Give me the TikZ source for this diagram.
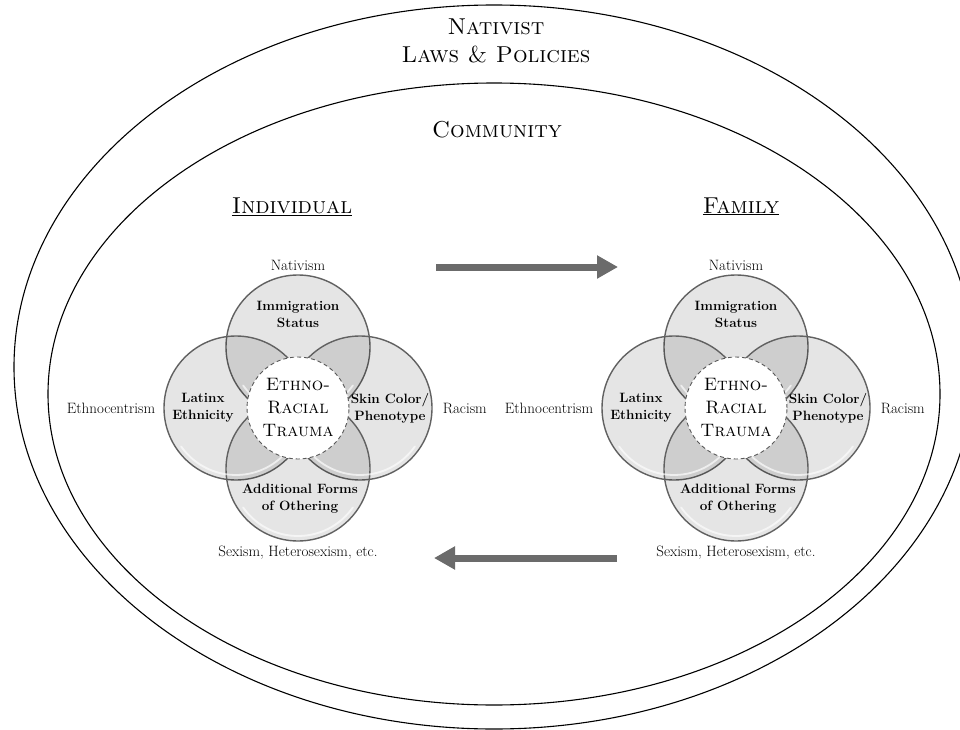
\documentclass[tikz,border=0pt]{standalone}
\usepackage{fontspec}
\usepackage{tikz}
\usetikzlibrary{positioning,arrows.meta}

\begin{document}
\begin{tikzpicture}[x=1pt,y=-1pt,
  petal/.style={circle,minimum size=144pt,inner sep=0pt,draw=black!62,line width=1.4pt,fill=black,fill opacity=0.1},
  shine/.style={white,line width=1.8pt,opacity=0.65,line cap=round},
  core/.style={circle,minimum size=102pt,inner sep=0pt,draw=black!65,dash pattern=on 4pt off 3pt,line width=0.9pt,fill=white,align=center,font=\fontsize{18}{23}\selectfont\scshape},
  petaltext/.style={align=center,inner sep=0pt,font=\fontsize{13.5}{17}\selectfont\bfseries},
  outertext/.style={inner sep=0pt,font=\fontsize{15}{18}\selectfont},
  headtext/.style={anchor=base,inner sep=0pt,font=\fontsize{23}{28}\selectfont\scshape},
  bigarrow/.style={line width=7pt,draw=black!58,-{Triangle[length=21pt,width=22pt]}}]

\useasboundingbox (0,0) rectangle (960,730);
\clip (0,0) rectangle (960,730);

\draw[line width=1.1pt] (494,367) ellipse [x radius=480pt, y radius=362pt]; %laws and policies
\draw[line width=1.1pt] (494,394) ellipse [x radius=446pt, y radius=311pt]; %community

\node[headtext] (nat) at (496,35) {Nativist};
\node[headtext] (laws) at (496,63) {Laws \& Policies};
\node[headtext] (comm) at (497,138) {Community};
\node[headtext] (indiv) at (292,213) {\underline{Individual}};
\node[headtext] (fam) at (741,213) {\underline{Family}};

% individual
\node[petal] (immL) at (298,347) {};
\node[petal] (latL) at (236,408) {};
\node[petal] (skinL) at (360,408) {};
\node[petal] (othL) at (298,469) {};
\draw[shine] ([shift={(215:67pt)}]immL.center) arc[start angle=215,end angle=325,radius=67pt]; %shine top
\draw[shine] ([shift={(215:67pt)}]latL.center) arc[start angle=215,end angle=325,radius=67pt]; %shine left
\draw[shine] ([shift={(215:67pt)}]skinL.center) arc[start angle=215,end angle=325,radius=67pt]; %shine right
\draw[shine] ([shift={(215:67pt)}]othL.center) arc[start angle=215,end angle=325,radius=67pt]; %shine bottom
\node[core] (coreL) at (298,408) {Ethno-\\Racial\\Trauma};

\node[petaltext] (immLt) at ([yshift=33pt]immL) {Immigration\\Status};
\node[petaltext] (latLt) at ([xshift=-33pt]latL) {Latinx\\Ethnicity};
\node[petaltext] (skinLt) at ([xshift=30pt]skinL) {Skin Color/\\Phenotype};
\node[petaltext] (othLt) at ([yshift=-30pt,xshift=2pt]othL) {Additional Forms\\of Othering};

\node[outertext,anchor=base] (natL) at ([yshift=4pt]immL.north) {Nativism};
\node[outertext,anchor=east] (ethL) at ([xshift=-8pt]latL.west) {Ethnocentrism};
\node[outertext,anchor=west] (racL) at ([xshift=10pt]skinL.east) {Racism};
\node[outertext,anchor=base] (sexL) at ([yshift=-15pt]othL.south) {Sexism, Heterosexism, etc.};

% family
\node[petal] (immF) at (736,347) {};
\node[petal] (latF) at (674,408) {};
\node[petal] (skinF) at (798,408) {};
\node[petal] (othF) at (736,469) {};
\draw[shine] ([shift={(215:67pt)}]immF.center) arc[start angle=215,end angle=325,radius=67pt]; %shine top
\draw[shine] ([shift={(215:67pt)}]latF.center) arc[start angle=215,end angle=325,radius=67pt]; %shine left
\draw[shine] ([shift={(215:67pt)}]skinF.center) arc[start angle=215,end angle=325,radius=67pt]; %shine right
\draw[shine] ([shift={(215:67pt)}]othF.center) arc[start angle=215,end angle=325,radius=67pt]; %shine bottom
\node[core] (coreF) at (736,408) {Ethno-\\Racial\\Trauma};

\node[petaltext] (immFt) at ([yshift=33pt]immF) {Immigration\\Status};
\node[petaltext] (latFt) at ([xshift=-33pt]latF) {Latinx\\Ethnicity};
\node[petaltext] (skinFt) at ([xshift=30pt]skinF) {Skin Color/\\Phenotype};
\node[petaltext] (othFt) at ([yshift=-30pt,xshift=2pt]othF) {Additional Forms\\of Othering};

\node[outertext,anchor=base] (natF) at ([yshift=4pt]immF.north) {Nativism};
\node[outertext,anchor=east] (ethF) at ([xshift=-8pt]latF.west) {Ethnocentrism};
\node[outertext,anchor=west] (racF) at ([xshift=10pt]skinF.east) {Racism};
\node[outertext,anchor=base] (sexF) at ([yshift=-15pt]othF.south) {Sexism, Heterosexism, etc.};

% arrows
\coordinate (fwdS) at (436,267);
\coordinate (fwdE) at (618,267);
\coordinate (backS) at (617,558);
\coordinate (backE) at (434,558);
\draw[bigarrow] (fwdS) -- (fwdE);
\draw[bigarrow] (backS) -- (backE);

\end{tikzpicture}
\end{document}
